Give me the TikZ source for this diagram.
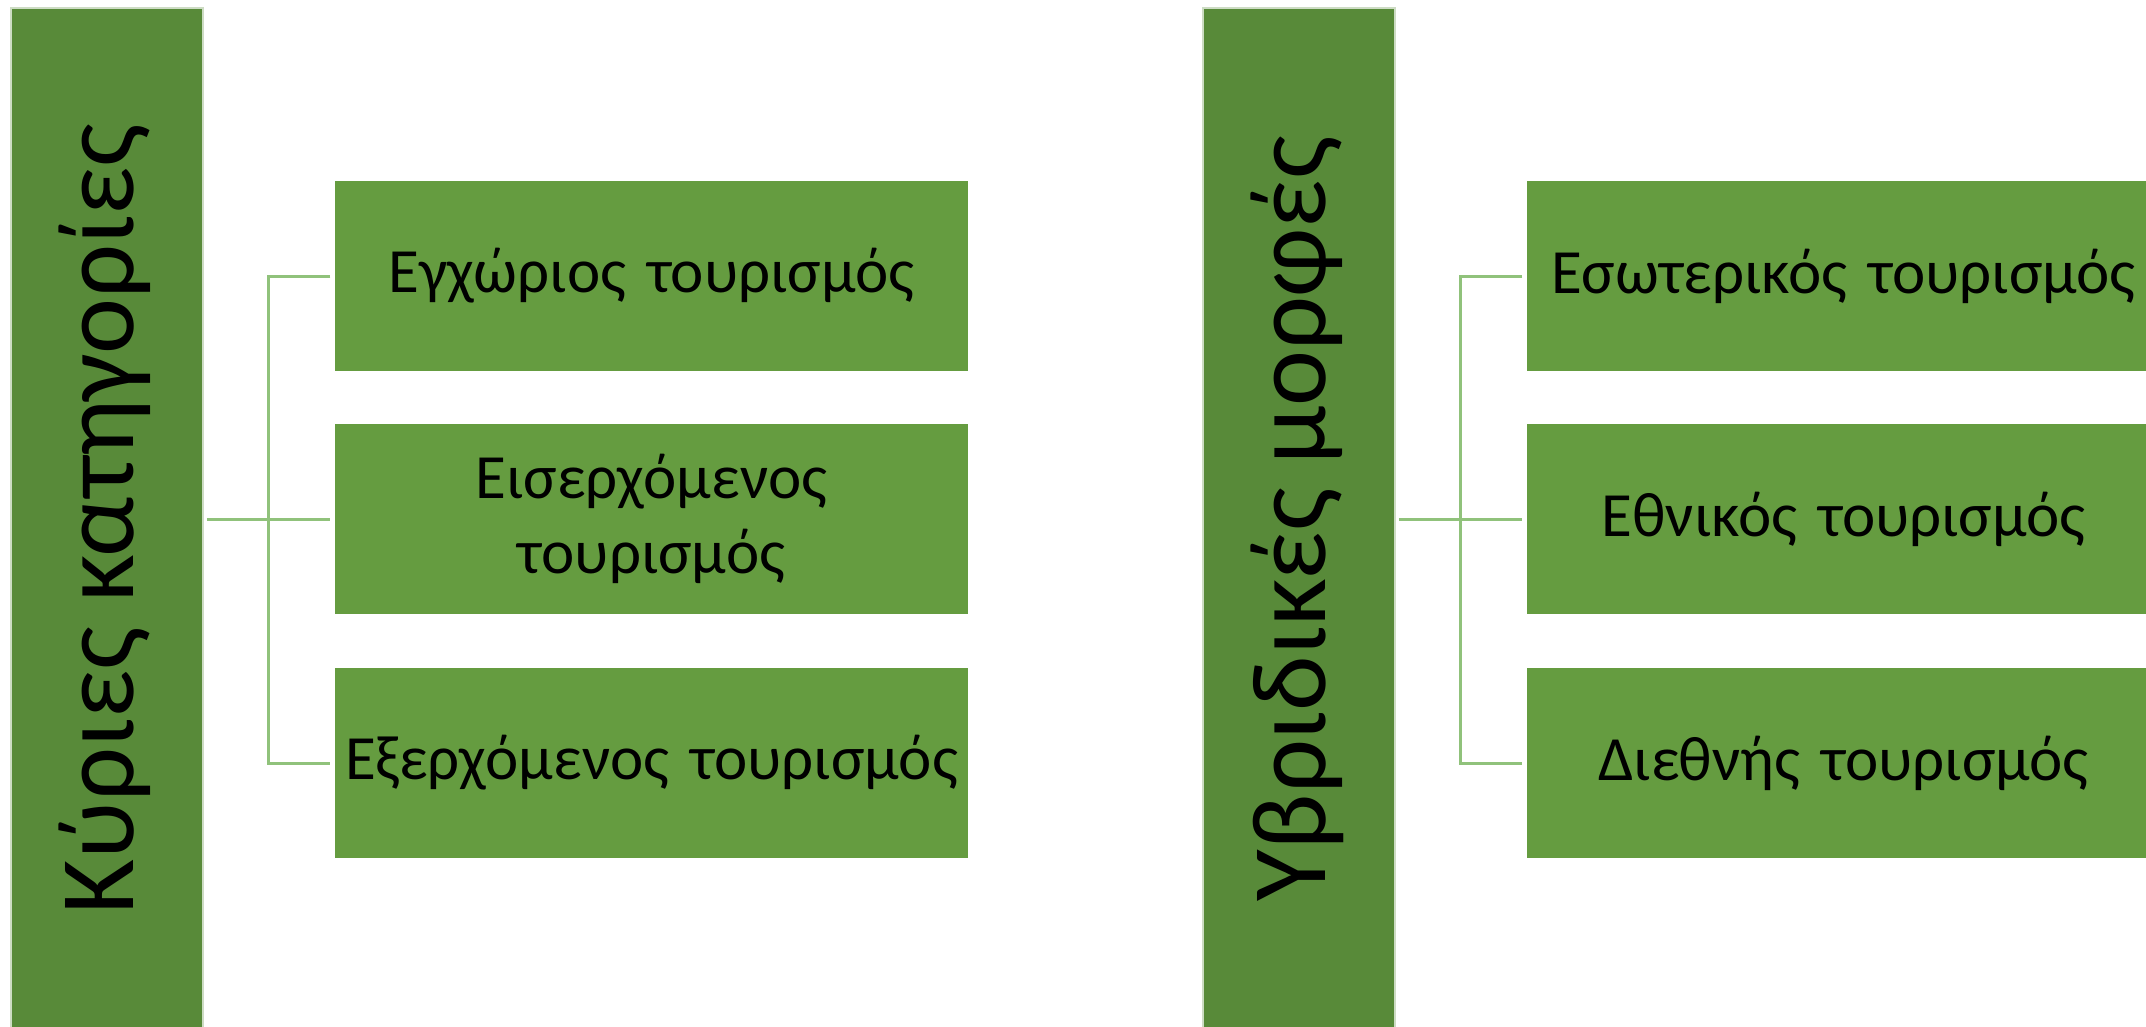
\documentclass[tikz,border=0pt]{standalone}
\usepackage{fontspec}
\setmainfont{Carlito}
\definecolor{talldark}{HTML}{588A39}
\definecolor{boxgreen}{HTML}{659C40}
\definecolor{connline}{HTML}{90C27B}
\begin{document}
\begin{tikzpicture}[x=1pt,y=-1pt,
  tallbox/.style={rectangle,fill=talldark,draw=white!70!talldark,line width=1.5pt,inner sep=0pt,minimum width=192pt,minimum height=1022pt},
  talltext/.style={rotate=90,inner sep=0pt,font=\fontsize{106}{127}\selectfont},
  itembox/.style={rectangle,fill=boxgreen,draw=white,line width=1.5pt,inner sep=0pt,minimum width=635pt,minimum height=192pt,align=center,text width=620pt,font=\fontsize{63}{75}\selectfont},
  conn/.style={draw=connline,line width=3pt}]
\useasboundingbox (0,0) rectangle (2146,1027);
\clip (0,0) rectangle (2146,1027);
\fill[white] (0,0) rectangle (2146,1027);
% left group
\node[tallbox] (L) at (107,519) {};
\node[talltext] (Lt) at ([xshift=-2pt]L.center) {Κύριες κατηγορίες};
\node[itembox] (A1) at (651.5,276) {Εγχώριος τουρισμός};
\node[itembox] (A2) at (651.5,519) {Εισερχόμενος\\τουρισμός};
\node[itembox] (A3) at (651.5,763) {Εξερχόμενος τουρισμός};
\coordinate (jL) at (268,519);
\draw[conn] (L.east) ++(3,0) -- ([xshift=-3pt]A2.west);
\draw[conn] ([xshift=-3pt]A1.west) -| (jL) |- ([xshift=-3pt]A3.west);
% right group
\node[tallbox] (R) at (1299,519) {};
\node[talltext] (Rt) at ([xshift=-2pt]R.center) {Υβριδικές μορφές};
\node[itembox] (B1) at (1843.5,276) {Εσωτερικός τουρισμός};
\node[itembox] (B2) at (1843.5,519) {Εθνικός τουρισμός};
\node[itembox] (B3) at (1843.5,763) {Διεθνής τουρισμός};
\coordinate (jR) at (1460,519);
\draw[conn] (R.east) ++(3,0) -- ([xshift=-3pt]B2.west);
\draw[conn] ([xshift=-3pt]B1.west) -| (jR) |- ([xshift=-3pt]B3.west);
\end{tikzpicture}
\end{document}
